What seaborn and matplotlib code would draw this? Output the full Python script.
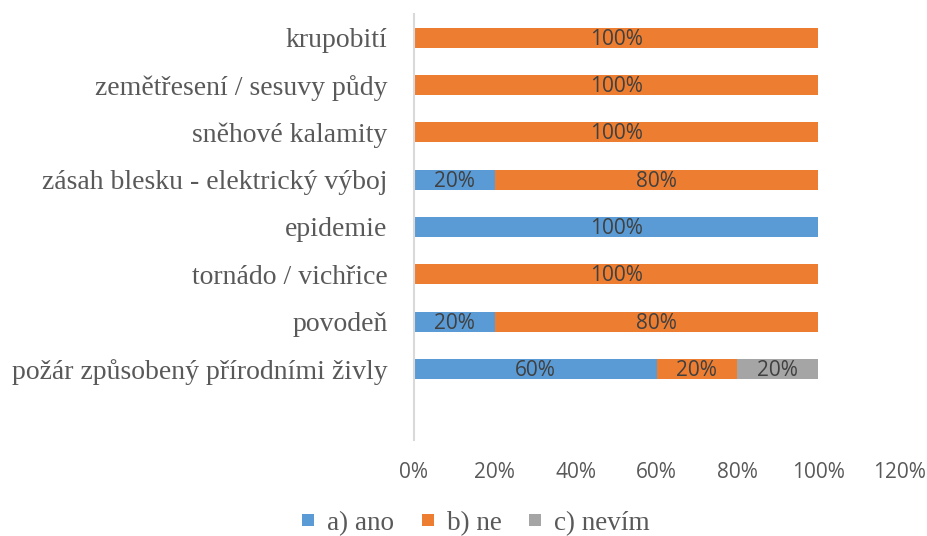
import matplotlib
matplotlib.use('Agg')
import matplotlib.pyplot as plt
from matplotlib.lines import Line2D
from matplotlib.ticker import FuncFormatter
import pandas as pd
import seaborn as sns

# data (top to bottom as shown)
categories = ['krupobití', 'zemětřesení / sesuvy půdy', 'sněhové kalamity',
              'zásah blesku - elektrický výboj', 'epidemie', 'tornádo / vichřice',
              'povodeň', 'požár způsobený přírodními živly']
ano = [0, 0, 0, 20, 100, 0, 20, 60]
ne = [100, 100, 100, 80, 0, 100, 80, 20]
nevim = [0, 0, 0, 0, 0, 0, 0, 20]
series_names = ['a) ano', 'b) ne', 'c) nevím']
colors = ['#5B9BD5', '#ED7D31', '#A5A5A5']
x_ticks = [0, 20, 40, 60, 80, 100, 120]

df = pd.DataFrame({'cat': categories, 'ano': ano, 'ne': ne, 'nevim': nevim})
df['c1'] = df['ano']
df['c2'] = df['ano'] + df['ne']
df['c3'] = df['c2'] + df['nevim']

sns.set_style('white')
serif = ['Liberation Serif', 'DejaVu Serif']
sans = ['Open Sans', 'Liberation Sans', 'DejaVu Sans']

fig = plt.figure(figsize=(9.27, 5.36), dpi=100)
ax = fig.add_axes([0.4466, 0.179, 0.5232, 0.795])

# stacked bars drawn as overlapping cumulative totals
for col, color in zip(['c3', 'c2', 'c1'], colors[::-1]):
    sns.barplot(data=df, x=col, y='cat', order=categories, color=color,
                orient='h', width=0.42, saturation=1, linewidth=0, ax=ax)

# segment labels
for i, row in df.iterrows():
    left = 0
    for key in ['ano', 'ne', 'nevim']:
        v = row[key]
        if v > 0:
            ax.text(left + v / 2, i + 0.03, f'{v}%', ha='center', va='center',
                    fontsize=15, color='#404040', family=sans)
        left += v

ax.set_xlim(0, 120)
ax.set_ylim(len(categories) + 0.5, -0.5)
ax.set_xticks(x_ticks)
ax.xaxis.set_major_formatter(FuncFormatter(lambda v, p: f'{v:.0f}%'))
ax.set_xlabel('')
ax.set_ylabel('')
for s in ['top', 'right', 'bottom']:
    ax.spines[s].set_visible(False)
ax.spines['left'].set_color('#D9D9D9')
ax.spines['left'].set_linewidth(1.5)
ax.tick_params(axis='both', length=0)
ax.tick_params(axis='x', pad=16)
ax.tick_params(axis='y', pad=19)
for lab in ax.get_xticklabels():
    lab.set_family(sans)
    lab.set_fontsize(15)
    lab.set_color('#595959')
for lab in ax.get_yticklabels():
    lab.set_family(serif)
    lab.set_fontsize(20)
    lab.set_color('#595959')

handles = [Line2D([], [], marker='s', linestyle='none', markersize=8.5,
                  markerfacecolor=c, markeredgewidth=0, label=n)
           for c, n in zip(colors, series_names)]
leg = fig.legend(handles=handles, loc='center', bbox_to_anchor=(0.513, 0.024),
                 ncol=3, frameon=False, handlelength=0.5, borderpad=0,
                 handletextpad=0.45, columnspacing=1.0,
                 prop={'family': serif, 'size': 19.5})
for t in leg.get_texts():
    t.set_color('#595959')

fig.savefig('out.png', dpi=100)
